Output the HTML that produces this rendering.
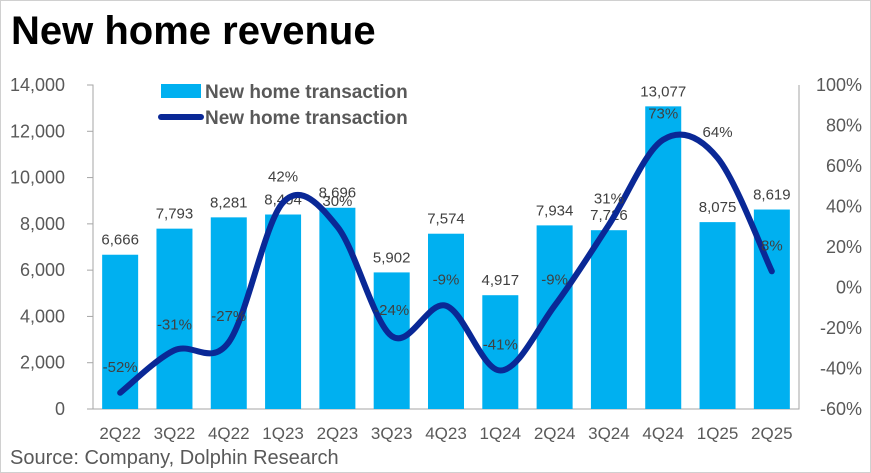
<!DOCTYPE html>
<html><head><meta charset="utf-8"><style>
body{margin:0;background:#fff;}
#wrap{position:relative;width:869px;height:471px;border:1px solid #d0d0d0;background:#fff;overflow:hidden;font-family:"Liberation Sans","Noto Sans CJK SC",sans-serif;}
h1{position:absolute;left:10px;top:8px;margin:0;font-size:40px;font-weight:bold;color:#000;}
.src{position:absolute;left:9px;top:446px;font-size:20px;color:#595959;}
</style></head><body>
<div id="wrap">
<h1>New home revenue</h1>
<svg id="chart" width="869" height="471" style="position:absolute;left:0;top:0"></svg>
<div class="src">Source: Company, Dolphin Research</div>
</div>
<script>
const categories=["2Q22","3Q22","4Q22","1Q23","2Q23","3Q23","4Q23","1Q24","2Q24","3Q24","4Q24","1Q25","2Q25"];
const revenue=[6666,7793,8281,8404,8696,5902,7574,4917,7934,7726,13077,8075,8619];
const growth=[-52,-31,-27,42,30,-24,-9,-41,-9,31,73,64,8];
const leftTicks=[0,2000,4000,6000,8000,10000,12000,14000];
const rightTicks=[-60,-40,-20,0,20,40,60,80,100];
const NS="http://www.w3.org/2000/svg";
const svg=document.getElementById('chart');
const x0=92,x1=798,yTop=84,yBot=408;
const band=(x1-x0)/categories.length;
const xc=i=>x0+band*(i+0.5);
const yL=v=>yBot-(v/14000)*(yBot-yTop);
const yR=v=>yBot-((v+60)/160)*(yBot-yTop);
function mk(tag,attrs,txt){const e=document.createElementNS(NS,tag);for(const k in attrs)e.setAttribute(k,attrs[k]);if(txt!==undefined)e.textContent=txt;svg.appendChild(e);return e;}
let a=mk('path',{d:`M${x0-6},${yTop}H${x0}V${yBot}H${x1}V${yTop}`,stroke:'#a6a6a6',fill:'none','stroke-width':1});

leftTicks.forEach(v=>{
 let t=mk('text',{x:64,y:yL(v)+6,'text-anchor':'end','font-size':18,fill:'#595959'},v.toLocaleString('en-US'));
 
 let l=mk('line',{x1:x0-6,x2:x0,y1:yL(v),y2:yL(v),stroke:'#a6a6a6'});
 
});
rightTicks.forEach(v=>{
 let t=mk('text',{x:861,y:yR(v)+6,'text-anchor':'end','font-size':18,fill:'#595959'},v+'%');
 
});
const bw=36;
revenue.forEach((v,i)=>{
 let r=mk('rect',{x:xc(i)-bw/2,y:yL(v),width:bw,height:yBot-yL(v),fill:'#00b0f0'});
 
 let t=mk('text',{x:xc(i),y:yL(v)-10,'text-anchor':'middle','font-size':15,fill:'#404040'},v.toLocaleString('en-US'));
 
 let c=mk('text',{x:xc(i),y:yBot+30,'text-anchor':'middle','font-size':17,fill:'#595959'},categories[i]);
 
});
const pts=growth.map((v,i)=>[xc(i),yR(v)]);
let d=`M${pts[0][0]},${pts[0][1]}`;
for(let i=0;i<pts.length-1;i++){
 const p0=pts[Math.max(i-1,0)],p1=pts[i],p2=pts[i+1],p3=pts[Math.min(i+2,pts.length-1)];
 const c1=[p1[0]+(p2[0]-p0[0])/6,p1[1]+(p2[1]-p0[1])/6];
 const c2=[p2[0]-(p3[0]-p1[0])/6,p2[1]-(p3[1]-p1[1])/6];
 d+=`C${c1[0]},${c1[1]} ${c2[0]},${c2[1]} ${p2[0]},${p2[1]}`;
}
let ln=mk('path',{d:d,stroke:'#0a2896',fill:'none','stroke-width':6,'stroke-linecap':'round'});

growth.forEach((v,i)=>{
 let t=mk('text',{x:xc(i),y:yR(v)-21,'text-anchor':'middle','font-size':15,fill:'#404040'},v+'%');
 
});
let lr=mk('rect',{x:160,y:83,width:40,height:14,fill:'#00b0f0'});

let lt=mk('text',{x:204,y:97,'font-size':19,'font-weight':'bold',fill:'#595959'},'New home transaction');

let ll=mk('line',{x1:160,x2:200,y1:116,y2:116,stroke:'#0a2896','stroke-width':6,'stroke-linecap':'round'});

let lt2=mk('text',{x:204,y:123,'font-size':19,'font-weight':'bold',fill:'#595959'},'New home transaction');

</script>
</body></html>
